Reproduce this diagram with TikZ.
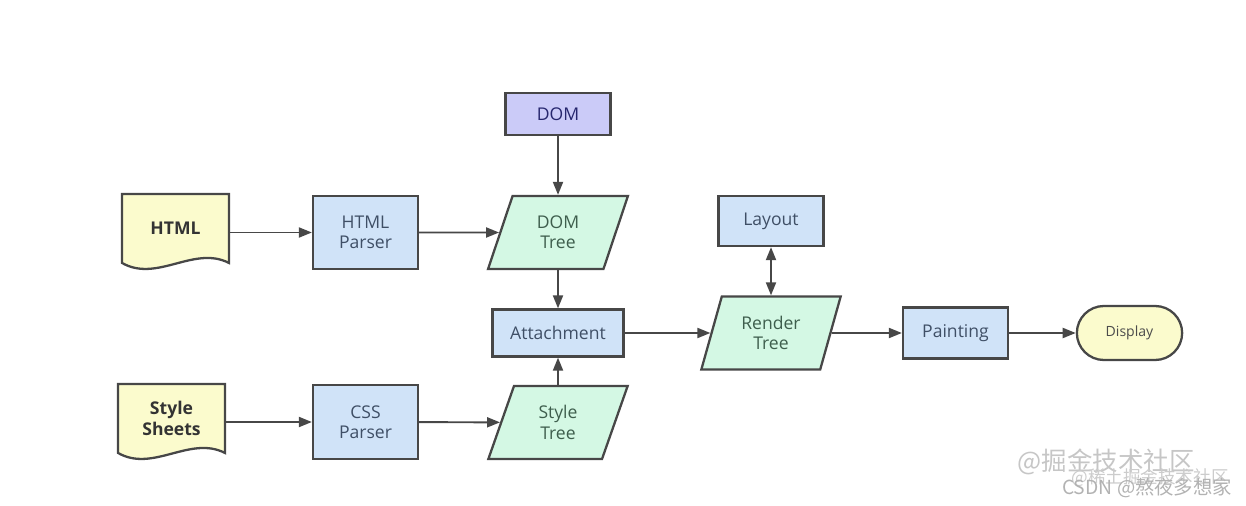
\documentclass[tikz,border=0pt]{standalone}
\usepackage{fontspec}
\setmainfont{Open Sans}
\newfontfamily\cjkfont{Noto Sans CJK SC}
\newfontfamily\lightfont{Open Sans Light}
\usetikzlibrary{positioning,shapes.geometric,shapes.misc,arrows.meta,backgrounds}
\definecolor{edgegray}{HTML}{474747}
\definecolor{boxblue}{HTML}{D0E3F8}
\definecolor{boxpurple}{HTML}{CBCBF8}
\definecolor{boxmint}{HTML}{D4F8E4}
\definecolor{boxyellow}{HTML}{FBFBCD}
\definecolor{txtblue}{HTML}{3F4F66}
\definecolor{txtgreen}{HTML}{3E5E4D}
\tikzset{
  every picture/.style={
    line width=1.1pt
  },
  process/.style={rectangle, draw=edgegray, line width=1.3pt, fill=boxblue, text=txtblue,
    align=center, minimum width=2.1cm, font=\fontsize{10}{11.5}\selectfont},
  treebox/.style={trapezium, trapezium left angle=72, trapezium right angle=108,
    trapezium stretches=true, draw=edgegray, line width=1.3pt, fill=boxmint, text=txtgreen,
    align=center, minimum width=2.8cm, minimum height=1.46cm,
    font=\fontsize{10}{11.5}\selectfont},
  document/.style={align=center, minimum width=2.1cm, minimum height=1.34cm,
    text=black!80, font=\bfseries\fontsize{10}{11.5}\selectfont},
  docshape/.style={draw=edgegray, line width=1.3pt, fill=boxyellow},
  terminal/.style={rounded rectangle, draw=edgegray, line width=1.3pt, fill=boxyellow, text=black!70,
    minimum width=2.34cm, minimum height=1.08cm, font=\fontsize{8}{9}\selectfont},
  flow/.style={draw=edgegray, -{Triangle[length=0.26cm,width=0.2cm]}},
  flowboth/.style={draw=edgegray, {Triangle[length=0.26cm,width=0.2cm]}-{Triangle[length=0.26cm,width=0.2cm]}},
  watermark/.style={text=gray!45, inner sep=0pt}
}

\begin{document}
\begin{tikzpicture}[x=0.02cm, y=-0.02cm]
  \useasboundingbox (0,0) rectangle (1246,506);

  % inputs
  \node[document] (html) at (175.5,228.5) {HTML};
  \node[document] (sheets) at (171.5,418.5) {Style\\Sheets};
  \begin{scope}[on background layer]
    \filldraw[docshape] (html.south west) -- (html.north west) -- (html.north east)
      -- (html.south east) .. controls +(-35,-18) and +(35,20) .. (html.south west) -- cycle;
    \filldraw[docshape] (sheets.south west) -- (sheets.north west) -- (sheets.north east)
      -- (sheets.south east) .. controls +(-35,-18) and +(35,20) .. (sheets.south west) -- cycle;
  \end{scope}

  % parsers and trees
  \node[process, minimum height=1.46cm] (hparser) at (365.5,232.5) {HTML\\Parser};
  \node[process, minimum height=1.48cm] (cssparser) at (365.5,422) {CSS\\Parser};
  \node[process, fill=boxpurple, text=black!60!blue!70!gray, minimum height=0.84cm] (dom) at (558,114) {DOM};
  \node[treebox] (domtree) at (558,232.5) {DOM\\Tree};
  \node[treebox] (styletree) at (558,422.5) {Style\\Tree};
  \node[process, minimum width=2.62cm, minimum height=0.94cm] (attach) at (558,333) {Attachment};

  % render side
  \node[process, minimum height=1.0cm] (layout) at (771,221) {Layout};
  \node[treebox] (render) at (771,333) {Render\\Tree};
  \node[process, minimum height=1.02cm] (paint) at (955.5,333) {Painting};
  \node[terminal] (display) at (1129.5,333) {Display};

  \draw[flow] (html.east |- hparser) -- (hparser);
  \draw[flow] (hparser) -- (domtree);
  \draw[flow] (dom) -- (domtree);
  \draw[flow] (domtree) -- (attach);
  \draw[flow] (sheets.east |- cssparser) -- (cssparser);
  \draw[flow] (cssparser) -- (styletree);
  \draw[flow] (styletree) -- (attach);
  \draw[flow] (attach) -- (render);
  \draw[flowboth] (layout) -- (render);
  \draw[flow] (render) -- (paint);
  \draw[flow] (paint) -- (display);

  % watermarks
  \node[watermark, font=\cjkfont\fontsize{14.5}{15}\selectfont] (wm1) at (1106,462) {@掘金技术社区};
  \node[watermark, text=gray!40, font=\cjkfont\fontsize{10}{11}\selectfont] (wm2) at (1150,478) {@稀土掘金技术社区};
  \node[watermark, text=gray!60, font=\cjkfont\fontsize{11}{12}\selectfont] (wm3) at (1147,488) {CSDN @熬夜多想家};
\end{tikzpicture}
\end{document}
